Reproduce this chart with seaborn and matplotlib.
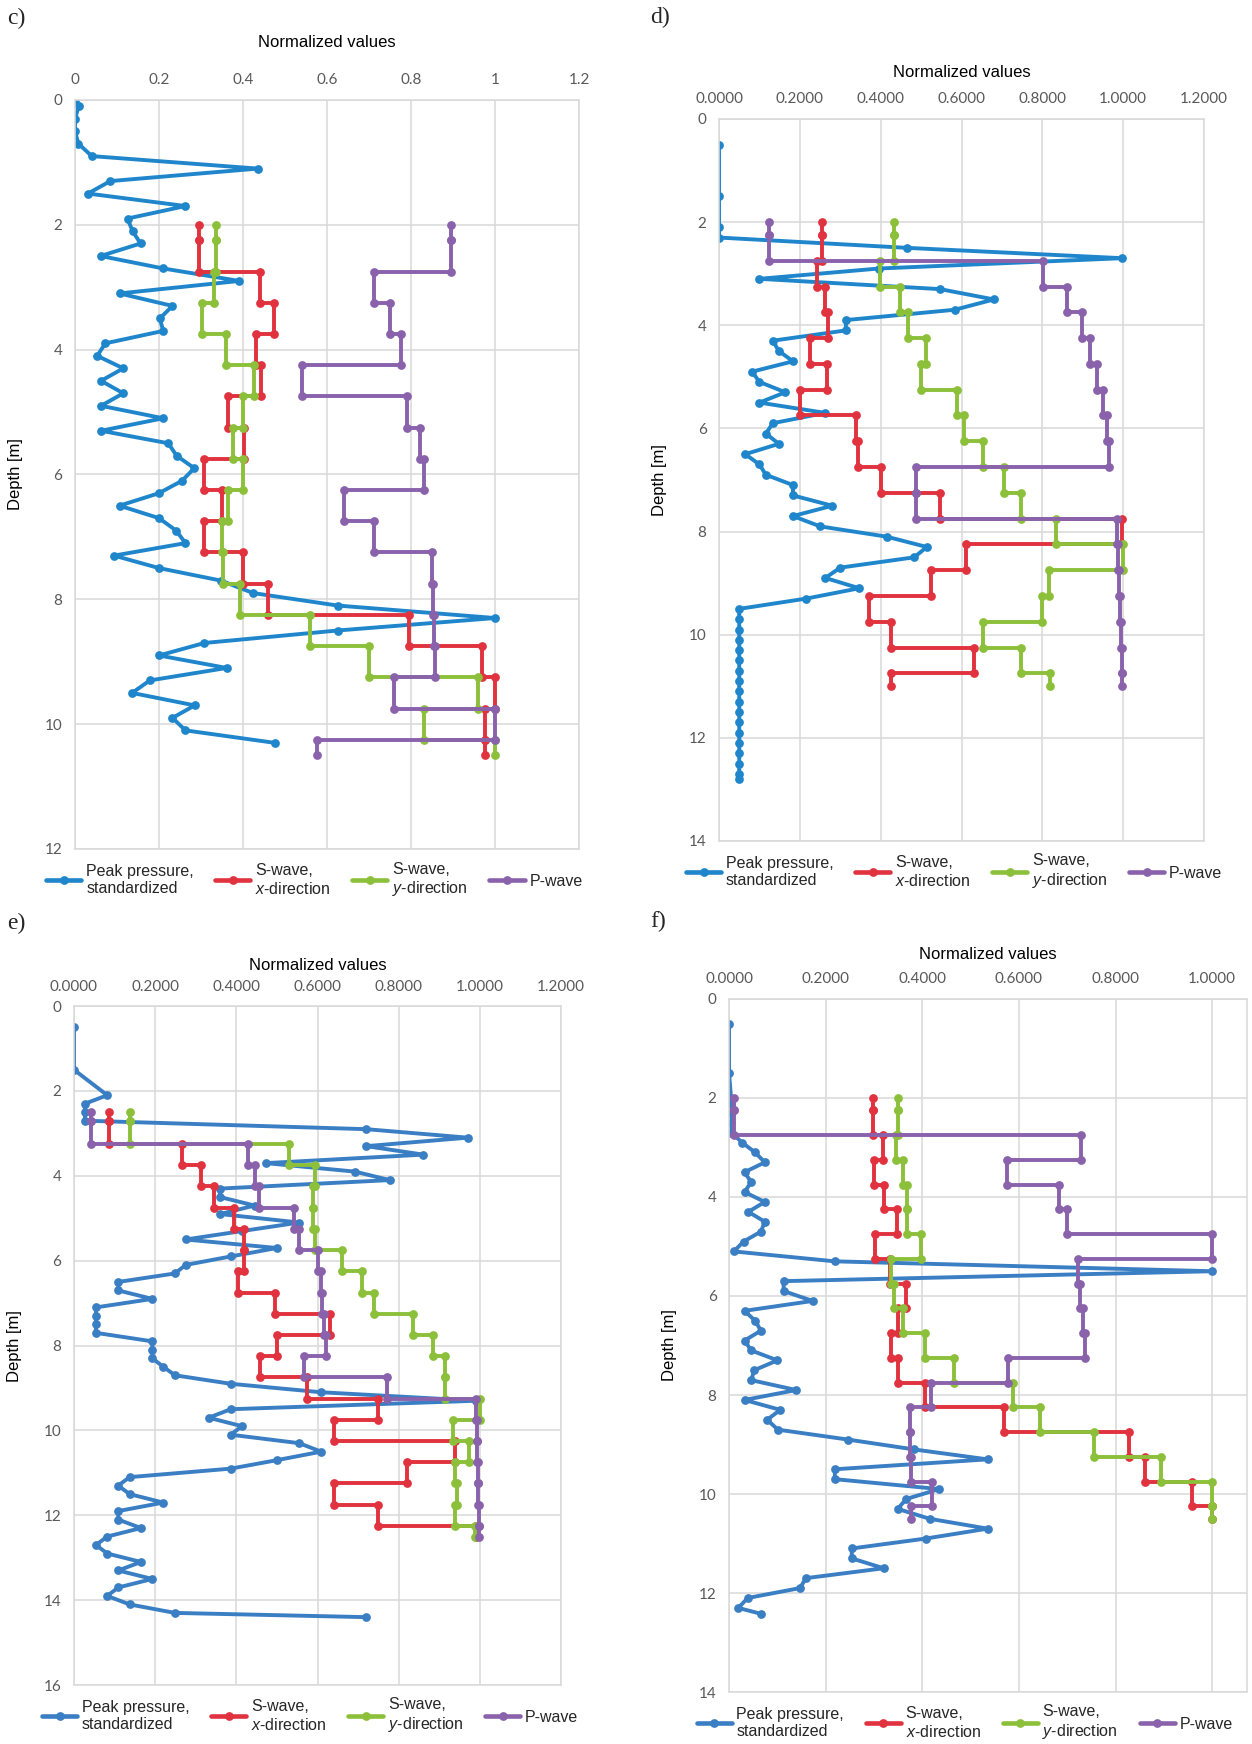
import numpy as np
import pandas as pd
import matplotlib
matplotlib.use("Agg")
import matplotlib.pyplot as plt
import seaborn as sns
from matplotlib.lines import Line2D

# ---------------- data ----------------
# panel c
c_pp_depth = [0, 0.1, 0.3, 0.5, 0.7, 0.9, 1.1, 1.3, 1.5, 1.7, 1.9, 2.1, 2.3, 2.5, 2.7, 2.9,
              3.1, 3.3, 3.5, 3.7, 3.9, 4.1, 4.3, 4.5, 4.7, 4.9, 5.1, 5.3, 5.5, 5.7, 5.9,
              6.1, 6.3, 6.5, 6.7, 6.9, 7.1, 7.3, 7.5, 7.7, 7.9, 8.1, 8.3, 8.5, 8.7, 8.9,
              9.1, 9.3, 9.5, 9.7, 9.9, 10.1, 10.3]
c_pp_val = [0, 0.009, 0, 0, 0.008, 0.04, 0.435, 0.084, 0.031, 0.263, 0.125, 0.137, 0.156,
            0.061, 0.21, 0.391, 0.106, 0.232, 0.202, 0.21, 0.072, 0.053, 0.115, 0.062, 0.115,
            0.062, 0.21, 0.062, 0.222, 0.242, 0.284, 0.255, 0.2, 0.106, 0.2, 0.241, 0.263,
            0.093, 0.2, 0.347, 0.424, 0.625, 1.0, 0.625, 0.308, 0.2, 0.361, 0.178, 0.136,
            0.285, 0.232, 0.263, 0.476]
c_layers = [2.0, 2.25, 2.75, 3.25, 3.75, 4.25, 4.75, 5.25, 5.75, 6.25, 6.75, 7.25, 7.75,
            8.25, 8.75, 9.25, 9.75, 10.25, 10.5]
c_sx = [0.296, 0.296, 0.441, 0.474, 0.431, 0.442, 0.364, 0.402, 0.308, 0.349, 0.308, 0.40,
        0.46, 0.794, 0.97, 1.0, 0.975, 0.975]
c_sy = [0.335, 0.335, 0.33, 0.303, 0.36, 0.425, 0.40, 0.375, 0.40, 0.364, 0.349, 0.353,
        0.393, 0.56, 0.70, 0.96, 0.83, 1.0]
c_p = [0.894, 0.894, 0.711, 0.749, 0.776, 0.54, 0.791, 0.822, 0.83, 0.64, 0.711, 0.849,
       0.852, 0.855, 0.857, 0.759, 1.0, 0.575]

# panel d
d_pp_depth = [0.5, 1.5, 2.1, 2.3, 2.5, 2.7, 2.9, 3.1, 3.3, 3.5, 3.7, 3.9, 4.1, 4.3, 4.5, 4.7,
              4.9, 5.1, 5.3, 5.5, 5.7, 5.9, 6.1, 6.3, 6.5, 6.7, 6.9, 7.1, 7.3, 7.5, 7.7,
              7.9, 8.1, 8.3, 8.5, 8.7, 8.9, 9.1, 9.3, 9.5, 9.7, 9.9, 10.1, 10.3, 10.5,
              10.7, 10.9, 11.1, 11.3, 11.5, 11.7, 11.9, 12.1, 12.3, 12.5, 12.7, 12.8]
d_pp_val = [0, 0, 0, 0, 0.466, 0.997, 0.396, 0.1, 0.547, 0.68, 0.583, 0.314, 0.314, 0.133,
            0.148, 0.183, 0.082, 0.1, 0.164, 0.1, 0.263, 0.133, 0.116, 0.148, 0.065, 0.1,
            0.116, 0.183, 0.183, 0.28, 0.183, 0.25, 0.415, 0.514, 0.483, 0.3, 0.263, 0.347,
            0.216, 0.05, 0.05, 0.05, 0.05, 0.05, 0.05, 0.05, 0.05, 0.05, 0.05, 0.05, 0.05,
            0.05, 0.05, 0.05, 0.05, 0.05, 0.05]
d_layers = [2.0, 2.25, 2.75, 3.25, 3.75, 4.25, 4.75, 5.25, 5.75, 6.25, 6.75, 7.25, 7.75,
            8.25, 8.75, 9.25, 9.75, 10.25, 10.75, 11.0]
d_sx = [0.254, 0.254, 0.242, 0.262, 0.27, 0.226, 0.266, 0.2, 0.338, 0.345, 0.4, 0.546,
        0.998, 0.61, 0.524, 0.37, 0.425, 0.63, 0.425]
d_sy = [0.432, 0.432, 0.398, 0.447, 0.468, 0.513, 0.5, 0.59, 0.607, 0.652, 0.705, 0.747,
        0.834, 1.0, 0.817, 0.8, 0.654, 0.746, 0.82]
d_p = [0.123, 0.123, 0.801, 0.86, 0.897, 0.917, 0.934, 0.95, 0.96, 0.965, 0.487, 0.487,
       0.985, 0.988, 0.99, 0.993, 0.995, 0.996, 0.997]

# panel e
e_pp_depth = [0.5, 1.5, 2.1, 2.3, 2.5, 2.7, 2.9, 3.1, 3.3, 3.5, 3.7, 3.9, 4.1, 4.3, 4.5, 4.7,
              4.9, 5.1, 5.3, 5.5, 5.7, 5.9, 6.1, 6.3, 6.5, 6.7, 6.9, 7.1, 7.3, 7.5, 7.7,
              7.9, 8.1, 8.3, 8.5, 8.7, 8.9, 9.1, 9.3, 9.5, 9.7, 9.9, 10.1, 10.3, 10.5,
              10.7, 10.9, 11.1, 11.3, 11.5, 11.7, 11.9, 12.1, 12.3, 12.5, 12.7, 12.9,
              13.1, 13.3, 13.5, 13.7, 13.9, 14.1, 14.3, 14.4]
e_pp_val = [0, 0, 0.082, 0.027, 0.027, 0.027, 0.72, 0.97, 0.72, 0.861, 0.473, 0.692, 0.778,
            0.36, 0.36, 0.445, 0.36, 0.555, 0.415, 0.275, 0.5, 0.386, 0.275, 0.249, 0.109,
            0.109, 0.193, 0.054, 0.054, 0.054, 0.054, 0.193, 0.193, 0.193, 0.22, 0.249,
            0.386, 0.609, 0.99, 0.386, 0.332, 0.414, 0.386, 0.555, 0.609, 0.5, 0.386, 0.137,
            0.109, 0.137, 0.22, 0.109, 0.109, 0.165, 0.082, 0.054, 0.082, 0.165, 0.109,
            0.193, 0.109, 0.082, 0.137, 0.249, 0.72]
e_layers = [2.5, 2.7, 3.25, 3.75, 4.25, 4.75, 5.25, 5.75, 6.25, 6.75, 7.25, 7.75, 8.25,
            8.75, 9.25, 9.75, 10.25, 10.75, 11.25, 11.75, 12.25, 12.5]
e_sx = [0.087, 0.087, 0.267, 0.313, 0.345, 0.395, 0.418, 0.418, 0.404, 0.495, 0.63, 0.5,
        0.458, 0.575, 0.75, 0.64, 0.94, 0.82, 0.64, 0.75, 0.99]
e_sy = [0.139, 0.139, 0.53, 0.595, 0.588, 0.59, 0.595, 0.66, 0.71, 0.74, 0.835, 0.885,
        0.915, 0.915, 1.0, 0.935, 0.974, 0.94, 0.944, 0.94, 0.988]
e_p = [0.043, 0.043, 0.428, 0.447, 0.455, 0.542, 0.555, 0.602, 0.608, 0.612, 0.615, 0.62,
       0.566, 0.77, 0.99, 0.992, 0.994, 0.996, 0.996, 0.997, 0.997]

# panel f
f_pp_depth = [0.5, 1.5, 2.1, 2.3, 2.5, 2.7, 2.9, 3.1, 3.3, 3.5, 3.7, 3.9, 4.1, 4.3, 4.5, 4.7,
              4.9, 5.1, 5.3, 5.5, 5.7, 5.9, 6.1, 6.3, 6.5, 6.7, 6.9, 7.1, 7.3, 7.5, 7.7,
              7.9, 8.1, 8.3, 8.5, 8.7, 8.9, 9.1, 9.3, 9.5, 9.7, 9.9, 10.1, 10.3, 10.5,
              10.7, 10.9, 11.1, 11.3, 11.5, 11.7, 11.9, 12.1, 12.3, 12.42]
f_pp_val = [0, 0, 0.005, 0.005, 0.005, 0.005, 0.027, 0.054, 0.074, 0.032, 0.046, 0.032,
            0.074, 0.04, 0.074, 0.066, 0.03, 0.01, 0.219, 1.0, 0.113, 0.113, 0.173, 0.032,
            0.054, 0.066, 0.032, 0.046, 0.1, 0.052, 0.046, 0.139, 0.032, 0.106, 0.079,
            0.101, 0.246, 0.383, 0.535, 0.219, 0.219, 0.435, 0.367, 0.349, 0.415, 0.535,
            0.407, 0.254, 0.254, 0.32, 0.159, 0.147, 0.039, 0.019, 0.066]
f_layers = [2.0, 2.25, 2.75, 3.25, 3.75, 4.25, 4.75, 5.25, 5.75, 6.25, 6.75, 7.25, 7.75,
            8.25, 8.75, 9.25, 9.75, 10.25, 10.5]
f_sx = [0.298, 0.298, 0.318, 0.3, 0.32, 0.347, 0.302, 0.333, 0.367, 0.35, 0.335, 0.349,
        0.405, 0.57, 0.828, 0.86, 0.958, 1.0]
f_sy = [0.35, 0.35, 0.345, 0.36, 0.368, 0.368, 0.398, 0.335, 0.342, 0.36, 0.405, 0.466,
        0.588, 0.644, 0.755, 0.894, 1.0, 1.0]
f_p = [0.01, 0.01, 0.728, 0.575, 0.682, 0.70, 1.0, 0.722, 0.726, 0.733, 0.737, 0.578,
       0.418, 0.375, 0.375, 0.376, 0.42, 0.377]

series_labels = ["Peak pressure,\nstandardized", "S-wave,\n$x$-direction",
                 "S-wave,\n$y$-direction", "P-wave"]
c_ticks = ["0", "0.2", "0.4", "0.6", "0.8", "1", "1.2"]
d_ticks = ["0.0000", "0.2000", "0.4000", "0.6000", "0.8000", "1.0000", "1.2000"]
e_ticks = ["0.0000", "0.2000", "0.4000", "0.6000", "0.8000", "1.0000", "1.2000"]
f_ticks = ["0.0000", "0.2000", "0.4000", "0.6000", "0.8000", "1.0000"]

# ---------------- style ----------------
sns.set_style("white")
plt.rcParams["font.family"] = ["Liberation Sans", "DejaVu Sans"]
plt.rcParams["mathtext.fontset"] = "custom"
plt.rcParams["mathtext.it"] = "Liberation Sans:italic"
plt.rcParams["mathtext.rm"] = "Liberation Sans"

BLUE1 = "#1F86CB"
BLUE2 = "#3A7EC3"
RED = "#E0323F"
GREEN = "#8CC03A"
PURPLE = "#8A62AC"
GRID = "#D9D9D9"
TICKC = "#595959"
LW = 2.8
MS = 6.3


def step_frame(bounds, vals):
    xs, ys = [], []
    for i, v in enumerate(vals):
        xs += [v, v]
        ys += [bounds[i], bounds[i + 1]]
    return pd.DataFrame({"value": xs, "depth": ys})


fig = plt.figure(figsize=(12.52, 17.44), dpi=100)

panels = [
    dict(tag="c)", rect=[0.0599, 0.5132, 0.4026, 0.4295], blue=BLUE1,
         pp=(c_pp_depth, c_pp_val), layers=c_layers, sx=c_sx, sy=c_sy, p=c_p,
         ticks=c_ticks, xmax=1.2, ymax=12, tagpos=(0.006, 0.9897), lpad=19, legx=0.475),
    dict(tag="d)", rect=[0.5743, 0.5178, 0.3874, 0.4140], blue=BLUE1,
         pp=(d_pp_depth, d_pp_val), layers=d_layers, sx=d_sx, sy=d_sy, p=d_p,
         ticks=d_ticks, xmax=1.2, ymax=14, tagpos=(0.519, 0.9900), lpad=11, legx=0.485),
    dict(tag="e)", rect=[0.0591, 0.0338, 0.3890, 0.3893], blue=BLUE2,
         pp=(e_pp_depth, e_pp_val), layers=e_layers, sx=e_sx, sy=e_sy, p=e_p,
         ticks=e_ticks, xmax=1.2, ymax=16, tagpos=(0.006, 0.4707), lpad=7, legx=0.485),
    dict(tag="f)", rect=[0.5823, 0.0298, 0.4137, 0.3974], blue=BLUE2,
         pp=(f_pp_depth, f_pp_val), layers=f_layers, sx=f_sx, sy=f_sy, p=f_p,
         ticks=f_ticks, xmax=1.072, ymax=14, tagpos=(0.519, 0.4718), lpad=10, legx=0.455),
]

for P in panels:
    ax = fig.add_axes(P["rect"])
    colors = [P["blue"], RED, GREEN, PURPLE]
    frames = [pd.DataFrame({"value": P["pp"][1], "depth": P["pp"][0]}),
              step_frame(P["layers"], P["sx"]),
              step_frame(P["layers"], P["sy"]),
              step_frame(P["layers"], P["p"])]
    for df, col, lab in zip(frames, colors, series_labels):
        sns.lineplot(data=df, x="value", y="depth", sort=False, estimator=None,
                     color=col, linewidth=LW, marker="o", markersize=MS,
                     markeredgewidth=0, ax=ax, label=lab, legend=False)
    ax.set_xlim(0, P["xmax"])
    ax.set_ylim(P["ymax"], 0)
    nt = len(P["ticks"])
    ax.set_xticks([0.2 * i for i in range(nt)])
    ax.set_xticklabels(P["ticks"])
    ax.set_yticks(list(range(0, P["ymax"] + 1, 2)))
    ax.xaxis.tick_top()
    ax.xaxis.set_label_position("top")
    ax.set_xlabel("Normalized values", fontsize=12, labelpad=P["lpad"], color="black")
    ax.set_ylabel("Depth [m]", fontsize=12, color="black", labelpad=16)
    ax.tick_params(axis="both", length=0, labelsize=11, labelcolor=TICKC)
    ax.tick_params(axis="x", pad=9)
    ax.tick_params(axis="y", pad=9)
    for lbl in ax.get_xticklabels() + ax.get_yticklabels():
        lbl.set_fontfamily(["Lato", "DejaVu Sans"])
    ax.grid(True, color=GRID, linewidth=1.1)
    ax.set_axisbelow(True)
    for s in ax.spines.values():
        s.set_color(GRID)
        s.set_linewidth(1.1)
    handles = [Line2D([], [], color=c, linewidth=LW + 0.5, marker="o", markersize=MS,
                      markeredgewidth=0) for c in colors]
    ax.legend(handles, series_labels, loc="upper center",
              bbox_to_anchor=(P["legx"], -0.004), ncol=4, frameon=False,
              fontsize=11.5, handlelength=2.2, handletextpad=0.3, columnspacing=1.35,
              borderaxespad=0.2, labelspacing=0.2)
    fig.text(P["tagpos"][0], P["tagpos"][1], P["tag"], fontsize=17,
             family=["Liberation Serif", "DejaVu Serif"], ha="left", va="center")

fig.savefig("out.png", dpi=100)
